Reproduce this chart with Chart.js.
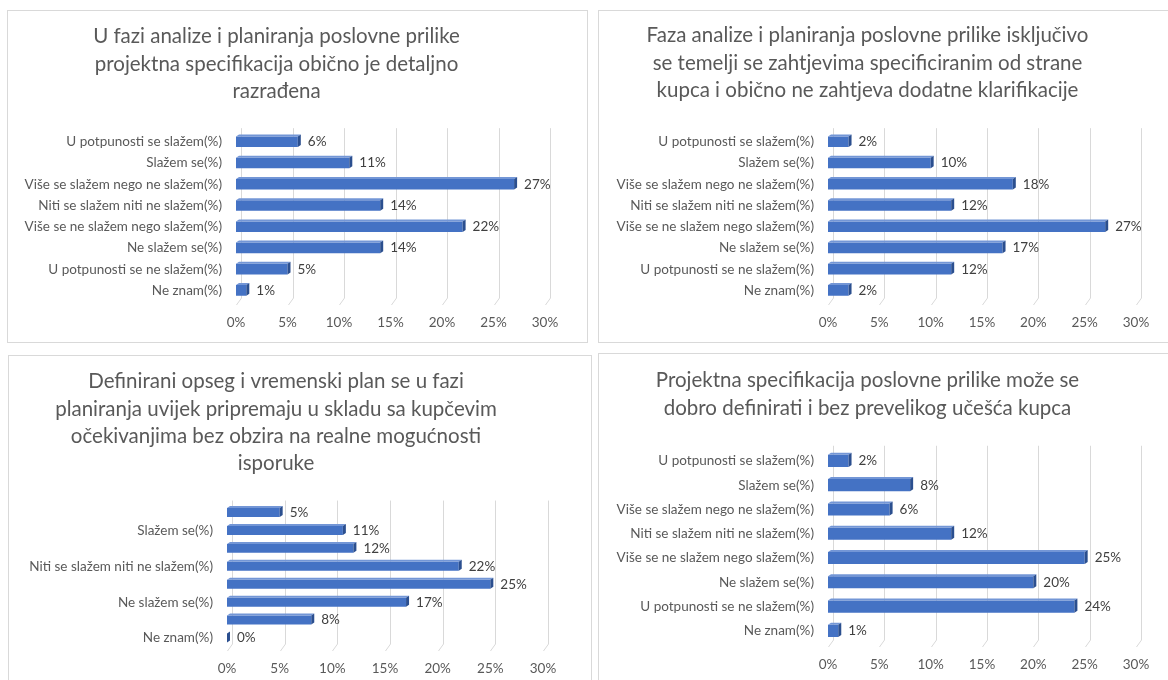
<!DOCTYPE html>
<html lang="hr">
<head>
<meta charset="utf-8">
<title>Faza analize i planiranja</title>
<script src="https://cdn.jsdelivr.net/npm/chart.js@4.4.1/dist/chart.umd.min.js"></script>
<style>
  html, body { margin: 0; padding: 0; background: #fff; overflow: hidden; }
  body { width: 1168px; height: 680px; position: relative; }
  .panel { position: absolute; border: 1px solid #d9d9d9; background: #fff; overflow: hidden; }
  .panel canvas { position: absolute; left: 0; top: 0; }
</style>
</head>
<body>
<div class="panel" style="left:7px;top:10px;width:579px;height:331px"><canvas id="c1" width="579" height="331"></canvas></div>
<div class="panel" style="left:598px;top:10px;width:584px;height:331px"><canvas id="c2" width="584" height="331"></canvas></div>
<div class="panel" style="left:8px;top:355px;width:582px;height:338px"><canvas id="c3" width="582" height="338"></canvas></div>
<div class="panel" style="left:598px;top:353px;width:584px;height:338px"><canvas id="c4" width="584" height="338"></canvas></div>
<script>
// Answer categories, top to bottom
const categories = [
  'U potpunosti se slažem(%)',
  'Slažem se(%)',
  'Više se slažem nego ne slažem(%)',
  'Niti se slažem niti ne slažem(%)',
  'Više se ne slažem nego slažem(%)',
  'Ne slažem se(%)',
  'U potpunosti se ne slažem(%)',
  'Ne znam(%)'
];

const title1 = ['U fazi analize i planiranja poslovne prilike', 'projektna specifikacija obično je detaljno', 'razrađena'];
const title2 = ['Faza analize i planiranja poslovne prilike isključivo', 'se temelji se zahtjevima specificiranim od strane', 'kupca i obično ne zahtjeva dodatne klarifikacije'];
const title3 = ['Definirani opseg i vremenski plan se u fazi', 'planiranja uvijek pripremaju u skladu sa kupčevim', 'očekivanjima bez obzira na realne mogućnosti', 'isporuke'];
const title4 = ['Projektna specifikacija poslovne prilike može se', 'dobro definirati i bez prevelikog učešća kupca'];

const values1 = [6, 11, 27, 14, 22, 14, 5, 1];
const values2 = [2, 10, 18, 12, 27, 17, 12, 2];
const values3 = [5, 11, 12, 22, 25, 17, 8, 0];
const values4 = [2, 8, 6, 12, 25, 20, 24, 1];

// x axis ticks in percent
const axisMin = 0;
const axisMax = 30;
const axisStep = 5;

const FONT = 'Lato, "Open Sans", sans-serif';
const TEXT = '#595959';
const GRID = '#d9d9d9';
const FRONT = '#4472c4';
const TOPFACE = '#7396d6';
const SIDE = '#2b4f8f';
const DX = 3, DY = 2;

// 3D look: back-wall gridlines with floor diagonals, bar top/end faces and value labels
const bar3d = {
  id: 'bar3d',
  beforeDatasetsDraw(chart) {
    const ctx = chart.ctx;
    const xs = chart.scales.x;
    const area = chart.chartArea;
    ctx.save();
    ctx.strokeStyle = GRID;
    ctx.lineWidth = 1;
    xs.ticks.forEach(t => {
      const px = Math.round(xs.getPixelForValue(t.value)) + 0.5;
      const bx = px + 5;
      ctx.beginPath();
      ctx.moveTo(bx, area.top - 3);
      ctx.lineTo(bx, area.bottom - 3);
      ctx.lineTo(px, area.bottom + 4);
      ctx.stroke();
    });
    ctx.restore();
  },
  afterDatasetsDraw(chart) {
    const ctx = chart.ctx;
    const meta = chart.getDatasetMeta(0);
    const data = chart.data.datasets[0].data;
    ctx.save();
    meta.data.forEach((bar, i) => {
      const p = bar.getProps(['x', 'y', 'base', 'height'], true);
      const top = p.y - p.height / 2;
      const bottom = p.y + p.height / 2;
      ctx.fillStyle = TOPFACE;
      ctx.beginPath();
      ctx.moveTo(p.base, top);
      ctx.lineTo(p.base + DX, top - DY);
      ctx.lineTo(p.x + DX, top - DY);
      ctx.lineTo(p.x, top);
      ctx.closePath();
      ctx.fill();
      ctx.fillStyle = SIDE;
      ctx.beginPath();
      ctx.moveTo(p.x, top);
      ctx.lineTo(p.x + DX, top - DY);
      ctx.lineTo(p.x + DX, bottom - DY);
      ctx.lineTo(p.x, bottom);
      ctx.closePath();
      ctx.fill();
      ctx.fillStyle = '#404040';
      ctx.font = '13.5px ' + FONT;
      ctx.textAlign = 'left';
      ctx.textBaseline = 'middle';
      ctx.fillText(data[i] + '%', p.x + DX + 7, p.y);
    });
    ctx.restore();
  }
};

function makeChart(id, title, values, opt) {
  return new Chart(document.getElementById(id), {
    type: 'bar',
    data: {
      labels: categories,
      datasets: [{
        data: values,
        backgroundColor: FRONT,
        borderWidth: 0,
        barPercentage: 0.5,
        categoryPercentage: 1
      }]
    },
    options: {
      indexAxis: 'y',
      responsive: false,
      animation: false,
      layout: { padding: { left: 0, right: opt.right, top: 0, bottom: 0 } },
      plugins: {
        legend: { display: false },
        tooltip: { enabled: false },
        title: {
          display: true,
          text: title,
          color: TEXT,
          font: { family: FONT, size: 20.5, weight: 'normal', lineHeight: 1.336 },
          padding: { top: opt.titleTop, bottom: opt.titleBottom }
        }
      },
      scales: {
        x: {
          min: axisMin,
          max: axisMax,
          grid: { display: false, drawTicks: false },
          border: { display: false },
          ticks: {
            stepSize: axisStep,
            color: TEXT,
            padding: 14,
            font: { family: FONT, size: 13.5 },
            callback: v => v + '%'
          },
          afterFit: s => { s.height = opt.axisH; }
        },
        y: {
          grid: { display: false, drawTicks: false },
          border: { display: false },
          ticks: {
            color: TEXT,
            padding: 14,
            autoSkip: false,
            font: { family: FONT, size: 13.5 },
            callback: function (v, i) {
              if (opt.every && i % 2 === 0) return '';
              return this.getLabelForValue(v);
            }
          },
          afterFit: s => { s.width = opt.left; }
        }
      }
    },
    plugins: [bar3d]
  });
}

makeChart('c1', title1, values1, { left: 228, right: 42, titleTop: 12, titleBottom: 26, axisH: 41 });
makeChart('c2', title2, values2, { left: 229, right: 47, titleTop: 11, titleBottom: 27, axisH: 41 });
makeChart('c3', title3, values3, { left: 218, right: 48, titleTop: 12, titleBottom: 26, axisH: 47, every: true });
makeChart('c4', title4, values4, { left: 229, right: 47, titleTop: 13, titleBottom: 27, axisH: 49 });
</script>
</body>
</html>
